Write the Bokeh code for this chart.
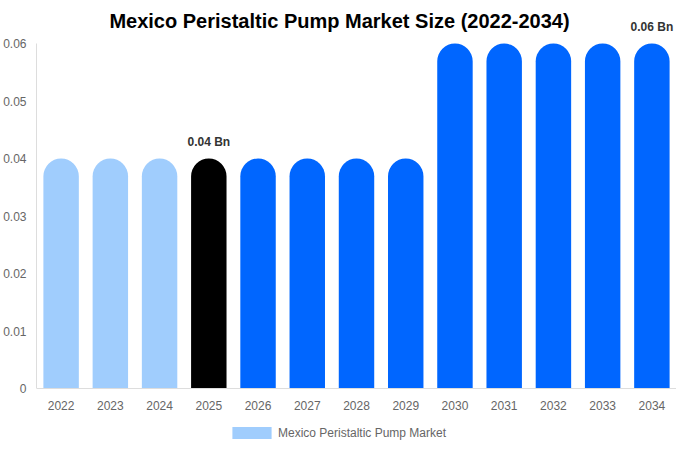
from bokeh.plotting import figure
from bokeh.models import ColumnDataSource, Range1d, FixedTicker, Label, Legend, LegendItem
from bokeh.core.properties import value
from bokeh.embed import file_html
from bokeh.resources import INLINE

years = ["2022", "2023", "2024", "2025", "2026", "2027", "2028", "2029",
         "2030", "2031", "2032", "2033", "2034"]
market = [0.04, 0.04, 0.04, 0.04, 0.04, 0.04, 0.04, 0.04,
          0.06, 0.06, 0.06, 0.06, 0.06]
colors = ["#a0cdfd"] * 3 + ["#000000"] + ["#0066ff"] * 9
y_ticks = [0, 0.01, 0.02, 0.03, 0.04, 0.05, 0.06]
y_tick_labels = ["0", "0.01", "0.02", "0.03", "0.04", "0.05", "0.06"]
annot_years = ["2025", "2034"]
annot_text = ["0.04 Bn", "0.06 Bn"]
title_text = "Mexico Peristaltic Pump Market Size (2022-2034)"
series_name = "Mexico Peristaltic Pump Market"

FONT = "Liberation Sans"
LEFT = 34
FRAME_W, FRAME_H = 640, 445
TOP_PX, BOTTOM_PX = 43, 57      # pixels above the 0.06 line / below the zero line
y_max = max(y_ticks)
px_per_unit = (FRAME_H - TOP_PX - BOTTOM_PX) / y_max
y_start = -BOTTOM_PX / px_per_unit
y_end = y_max + TOP_PX / px_per_unit

p = figure(x_range=years, y_range=Range1d(y_start, y_end),
           frame_width=FRAME_W, frame_height=FRAME_H,
           output_backend="svg", toolbar_location=None,
           min_border_left=LEFT, min_border_right=0, min_border_top=0, min_border_bottom=0)
p.outline_line_color = None
p.xgrid.grid_line_color = None
p.ygrid.grid_line_color = None

src = ColumnDataSource(dict(x=years, top=market, color=colors))
r = p.vbar(x="x", top="top", bottom=0, width=0.72, fill_color="color", line_color=None,
           border_radius=(18, 18, 0, 0), source=src)

annot_vals = [market[years.index(y)] for y in annot_years]
asrc = ColumnDataSource(dict(x=annot_years, y=annot_vals, t=annot_text))
p.text(x="x", y="y", text="t", source=asrc, text_align="center", text_baseline="bottom",
       y_offset=-10, text_font=value(FONT), text_font_size="12px", text_font_style="bold",
       text_color="#333333")

p.xaxis.fixed_location = 0
p.yaxis.ticker = FixedTicker(ticks=y_ticks)
p.yaxis.bounds = (0, y_max)
p.yaxis.major_label_overrides = {t: l for t, l in zip(y_ticks, y_tick_labels)}
for ax in (p.xaxis[0], p.yaxis[0]):
    ax.axis_line_color = "#dddddd"
    ax.major_tick_line_color = None
    ax.minor_tick_line_color = None
    ax.major_tick_out = 0
    ax.major_tick_in = 0
    ax.minor_tick_out = 0
    ax.major_label_text_font = FONT
    ax.major_label_text_font_size = "12px"
    ax.major_label_text_color = "#666666"
p.yaxis.major_label_standoff = 10
p.xaxis.major_label_standoff = 12

title = Label(x=303, y=FRAME_H - 20, x_units="screen", y_units="screen", text=title_text,
              text_font=FONT, text_font_size="20px", text_font_style="bold",
              text_align="center", text_baseline="middle", text_color="#000000")
p.add_layout(title)

legend = Legend(items=[LegendItem(label=series_name, renderers=[r], index=0)],
                location=(191, 5), orientation="horizontal",
                glyph_width=49, glyph_height=15, label_height=12, label_standoff=2,
                padding=0, margin=0, border_line_color=None, background_fill_alpha=0,
                label_text_font=FONT, label_text_font_size="12px", label_text_color="#666666")
p.add_layout(legend, "center")

open("out.html", "w").write(file_html(p, INLINE))
